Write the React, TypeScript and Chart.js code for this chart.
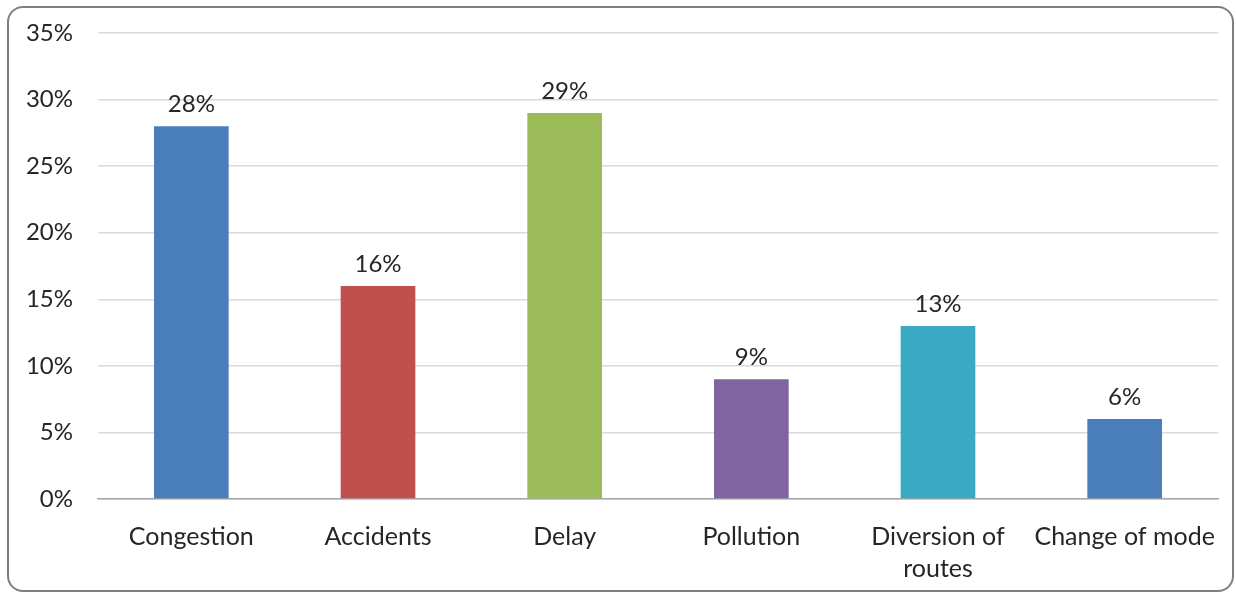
import React, { useEffect, useRef } from "react";
import { Chart, registerables } from "chart.js";

Chart.register(...registerables);

const categories: (string | string[])[] = [
  "Congestion",
  "Accidents",
  "Delay",
  "Pollution",
  ["Diversion of", "routes"],
  "Change of mode",
];
const shares = [28, 16, 29, 9, 13, 6];
const barColors = ["#4a7ebb", "#c0504d", "#9bbb59", "#8064a2", "#3aaac4", "#4a7ebb"];
const yMax = 35;
const yStep = 5;

const FONT = "Lato, 'Open Sans', sans-serif";

// Writes each bar's percentage just above its top edge.
const valueLabels = {
  id: "valueLabels",
  afterDatasetsDraw(chart: any) {
    const ctx = chart.ctx;
    const meta = chart.getDatasetMeta(0);
    ctx.save();
    ctx.font = `24px ${FONT}`;
    ctx.fillStyle = "#262626";
    ctx.textAlign = "center";
    ctx.textBaseline = "alphabetic";
    meta.data.forEach((bar: any, i: number) => {
      ctx.fillText(`${shares[i]}%`, bar.x, bar.y - 14);
    });
    ctx.restore();
  },
};

export default function App() {
  const canvasRef = useRef<HTMLCanvasElement | null>(null);

  useEffect(() => {
    if (!canvasRef.current) return;
    const chart = new Chart(canvasRef.current, {
      type: "bar",
      data: {
        labels: categories,
        datasets: [
          {
            data: shares,
            backgroundColor: barColors,
            borderWidth: 0,
            categoryPercentage: 1,
            barPercentage: 0.4,
          },
        ],
      },
      options: {
        animation: false,
        responsive: false,
        maintainAspectRatio: false,
        layout: { padding: { left: 0, right: 18, top: 33, bottom: 0 } },
        plugins: {
          legend: { display: false },
          tooltip: { enabled: false },
        },
        scales: {
          x: {
            grid: { display: false },
            border: { display: true, color: "#a6a6a6", width: 1.5 },
            ticks: {
              color: "#262626",
              font: { family: FONT, size: 25, lineHeight: 1.28 },
              padding: 14,
              maxRotation: 0,
              autoSkip: false,
            },
            afterFit(scale: any) {
              scale.height = 96;
              scale.paddingLeft = 0;
              scale.paddingRight = 0;
            },
          },
          y: {
            min: 0,
            max: yMax,
            grid: { color: "#d9d9d9", lineWidth: 1.5, drawTicks: false },
            border: { display: false },
            ticks: {
              stepSize: yStep,
              color: "#262626",
              font: { family: FONT, size: 24 },
              padding: 25,
              callback: (v: any) => `${v}%`,
            },
            afterFit(scale: any) {
              scale.width = 98;
              scale.paddingTop = 0;
              scale.paddingBottom = 0;
            },
          },
        },
      },
      plugins: [valueLabels],
    });
    return () => chart.destroy();
  }, []);

  return (
    <div
      style={{
        position: "fixed",
        left: 0,
        top: 0,
        width: 1236,
        height: 595,
        background: "#ffffff",
      }}
    >
      <div
        style={{
          position: "absolute",
          left: 7,
          top: 6,
          width: 1227,
          height: 586,
          boxSizing: "border-box",
          border: "2px solid #7f7f7f",
          borderRadius: 16,
        }}
      />
      <canvas
        ref={canvasRef}
        width={1236}
        height={595}
        style={{ position: "absolute", left: 0, top: 0 }}
      />
    </div>
  );
}
